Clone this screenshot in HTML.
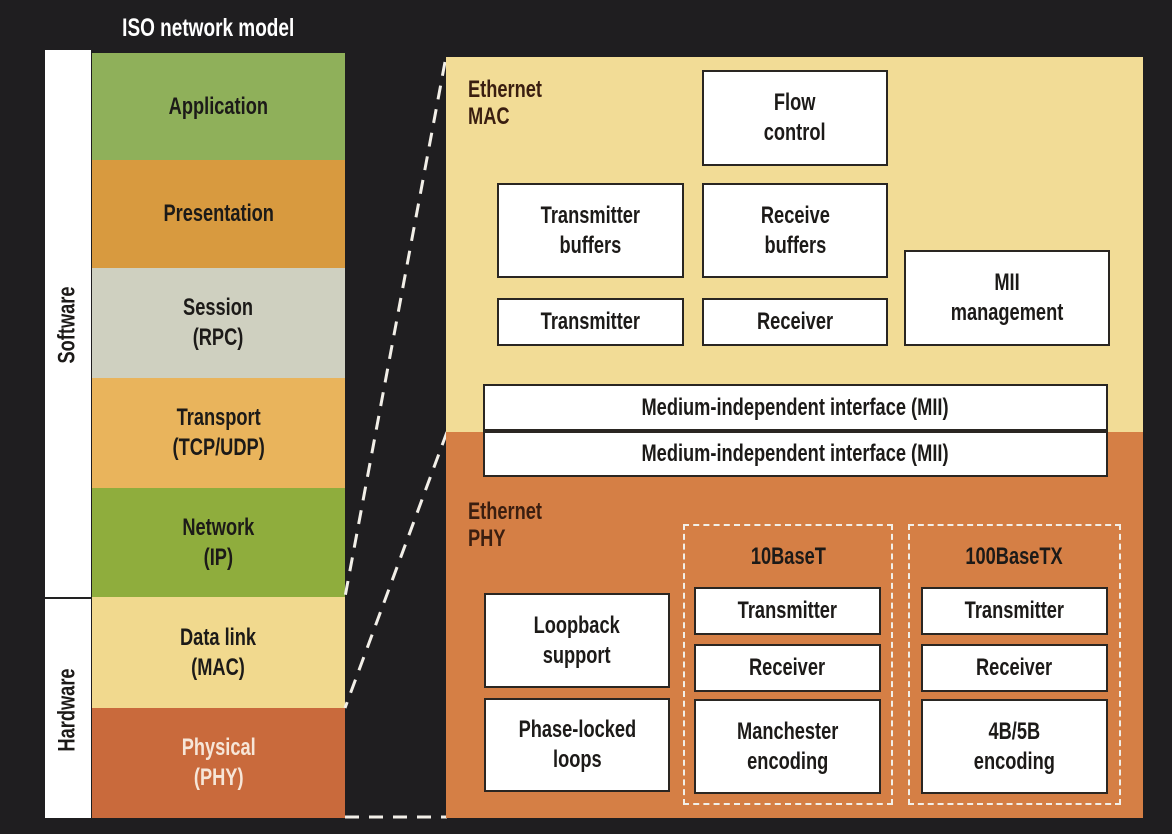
<!DOCTYPE html>
<html><head><meta charset="utf-8"><style>
body{margin:0;width:1172px;height:834px;background:#1f1e20;position:relative;overflow:hidden;font-family:"Liberation Sans",sans-serif;font-weight:bold;}
div{position:absolute;box-sizing:border-box;}
.c{display:flex;align-items:center;justify-content:center;text-align:center;font-size:24px;line-height:30px;color:#1c1a18;}
.c span,.lbl span,.t span{display:inline-block;transform:scaleX(.76);white-space:nowrap;}
.lbl span{transform-origin:left center;}
.b{background:#fff;border:2px solid #2a2622;}
.dash{border:2px dashed #f2efe8;}
.lbl{font-size:24px;line-height:27px;color:#3a1e10;}
</style></head><body>
<div class="t" style="left:95px;top:13px;width:195px;text-align:center;color:#fff;font-size:25px;line-height:30px;"><span>ISO network model</span></div>
<div style="left:45px;top:50px;width:46px;height:768px;background:#fff;"></div>
<div style="left:45px;top:597px;width:46px;height:2px;background:#222;"></div>
<div class="c" style="left:45px;top:250px;width:46px;height:150px;"><span style="transform:rotate(-90deg) scaleX(.76);">Software</span></div>
<div class="c" style="left:45px;top:640px;width:46px;height:140px;"><span style="transform:rotate(-90deg) scaleX(.76);">Hardware</span></div>

<div class="c" style="left:92px;top:53px;width:253px;height:107px;background:#8fb05a;"><span>Application</span></div>
<div class="c" style="left:92px;top:160px;width:253px;height:108px;background:#d89a3f;"><span>Presentation</span></div>
<div class="c" style="left:92px;top:268px;width:253px;height:110px;background:#cfd0c0;"><span>Session<br>(RPC)</span></div>
<div class="c" style="left:92px;top:378px;width:253px;height:110px;background:#e9b45c;"><span>Transport<br>(TCP/UDP)</span></div>
<div class="c" style="left:92px;top:488px;width:253px;height:109px;background:#8fad3d;"><span>Network<br>(IP)</span></div>
<div class="c" style="left:92px;top:597px;width:253px;height:111px;background:#f1d98e;"><span>Data link<br>(MAC)</span></div>
<div class="c" style="left:92px;top:708px;width:253px;height:110px;background:#c96a3c;color:#f6e6d8;"><span>Physical<br>(PHY)</span></div>

<svg style="position:absolute;left:0;top:0" width="1172" height="834">
<g stroke="#f2efe8" stroke-width="3" stroke-dasharray="14,10" fill="none">
<line x1="445" y1="62" x2="345" y2="597"/>
<line x1="447" y1="432" x2="345" y2="708"/>
<line x1="345" y1="817" x2="447" y2="817"/>
</g></svg>

<div style="left:446px;top:57px;width:697px;height:375px;background:#f2dc96;"></div>
<div style="left:446px;top:432px;width:697px;height:386px;background:#d57f45;"></div>
<div class="lbl" style="left:468px;top:76px;"><span>Ethernet<br>MAC</span></div>
<div class="lbl" style="left:468px;top:498px;"><span>Ethernet<br>PHY</span></div>

<div class="c b" style="left:702px;top:70px;width:186px;height:96px;"><span>Flow<br>control</span></div>
<div class="c b" style="left:497px;top:183px;width:187px;height:95px;"><span>Transmitter<br>buffers</span></div>
<div class="c b" style="left:702px;top:183px;width:186px;height:95px;"><span>Receive<br>buffers</span></div>
<div class="c b" style="left:497px;top:298px;width:187px;height:48px;"><span>Transmitter</span></div>
<div class="c b" style="left:702px;top:298px;width:186px;height:48px;"><span>Receiver</span></div>
<div class="c b" style="left:904px;top:250px;width:206px;height:96px;"><span>MII<br>management</span></div>
<div class="c b" style="left:483px;top:384px;width:625px;height:47px;"><span>Medium-independent interface (MII)</span></div>
<div class="c b" style="left:483px;top:431px;width:625px;height:46px;"><span>Medium-independent interface (MII)</span></div>

<div class="dash" style="left:683px;top:524px;width:210px;height:281px;"></div>
<div class="dash" style="left:908px;top:524px;width:213px;height:281px;"></div>
<div class="c" style="left:683px;top:542px;width:210px;height:30px;"><span>10BaseT</span></div>
<div class="c" style="left:908px;top:542px;width:213px;height:30px;"><span>100BaseTX</span></div>

<div class="c b" style="left:484px;top:593px;width:186px;height:95px;"><span>Loopback<br>support</span></div>
<div class="c b" style="left:484px;top:698px;width:186px;height:94px;"><span>Phase-locked<br>loops</span></div>
<div class="c b" style="left:694px;top:587px;width:187px;height:48px;"><span>Transmitter</span></div>
<div class="c b" style="left:694px;top:644px;width:187px;height:48px;"><span>Receiver</span></div>
<div class="c b" style="left:694px;top:699px;width:187px;height:95px;"><span>Manchester<br>encoding</span></div>
<div class="c b" style="left:921px;top:587px;width:187px;height:48px;"><span>Transmitter</span></div>
<div class="c b" style="left:921px;top:644px;width:187px;height:48px;"><span>Receiver</span></div>
<div class="c b" style="left:921px;top:699px;width:187px;height:95px;"><span>4B/5B<br>encoding</span></div>
</body></html>
